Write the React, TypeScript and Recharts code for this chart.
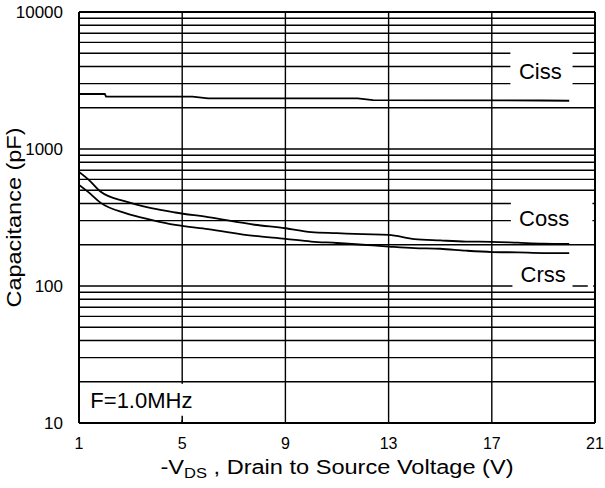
import { CartesianGrid, Line, LineChart, ReferenceArea, ReferenceDot, ReferenceLine, XAxis, YAxis } from "recharts";

const vdsTicks = [1, 5, 9, 13, 17, 21];
const capTicks = [
  10, 20, 30, 40, 50, 60, 70, 80, 90,
  100, 200, 300, 400, 500, 600, 700, 800, 900,
  1000, 2000, 3000, 4000, 5000, 6000, 7000, 8000, 9000,
  10000
];
const decadeLabels = [10, 100, 1000, 10000];

const cissV = [1, 2, 2.05, 5.4, 6.0, 11.8, 12.4, 18.9, 20];
const cissC = [2520, 2520, 2410, 2410, 2340, 2340, 2270, 2260, 2250];

const cossV = [1, 1.4, 1.83, 2.8, 3.8, 4.73, 6, 7.8, 9, 10, 11, 12, 13, 14, 15, 16, 17, 18, 19, 20];
const cossC = [680, 590, 489, 414, 370, 344, 318, 280, 264, 247, 243, 239, 236, 220, 215, 211, 210, 207, 204, 203];

const crssV = [1, 1.4, 1.83, 2.8, 3.8, 4.73, 6, 7.8, 9, 10, 11, 12, 13, 14, 15, 16, 17, 18, 19, 20];
const crssC = [547, 478, 406, 340, 304, 279, 260, 232, 221, 211, 206, 200, 194, 189, 187, 181, 177, 176, 174, 174];

const toRows = (v: number[], c: number[]) => v.map((x, i) => ({ v: x, c: c[i] }));

const FONT = "'Liberation Sans', Arial, sans-serif";

function XTitle({ viewBox }: any) {
  const cx = viewBox.x + viewBox.width / 2;
  return (
    <text x={cx} y={viewBox.y + 51} textAnchor="middle" fontSize={20} fontFamily={FONT} fill="#000"
      textLength={353} lengthAdjust="spacingAndGlyphs">
      -V<tspan fontSize={14} dy={4}>DS</tspan><tspan dy={-4}> , Drain to Source Voltage (V)</tspan>
    </text>
  );
}

function YTitle({ viewBox }: any) {
  const cy = viewBox.y + viewBox.height / 2;
  return (
    <text x={21} y={cy} transform={`rotate(-90 21 ${cy})`} textAnchor="middle" fontSize={20} fontFamily={FONT}
      fill="#000" textLength={180} lengthAdjust="spacingAndGlyphs">
      Capacitance (pF)
    </text>
  );
}

const tagStyle = { fontSize: 22, fontFamily: FONT, fill: "#000" };

export default function App() {
  return (
    <div style={{ position: "absolute", left: 0, top: 0, background: "#fff" }}>
      <LineChart width={605} height={488} margin={{ top: 12, right: 10, left: 0, bottom: 0 }}>
        <CartesianGrid stroke="#000" strokeWidth={1.4} />
        <XAxis type="number" dataKey="v" domain={[1, 21]} ticks={vdsTicks} allowDataOverflow height={65}
          tickSize={0} tickMargin={15} tick={{ fontSize: 16, fontFamily: FONT, fill: "#000" }}
          axisLine={{ stroke: "#000", strokeWidth: 2 }} label={(p: any) => <XTitle {...p} />} />
        <YAxis type="number" scale="log" domain={[10, 10000]} ticks={capTicks} allowDataOverflow width={79}
          tickSize={0} tickMargin={16} interval={0}
          tickFormatter={(t: number) => (decadeLabels.includes(t) ? String(t) : "")}
          tick={{ fontSize: 17, fontFamily: FONT, fill: "#000" }}
          axisLine={{ stroke: "#000", strokeWidth: 2 }} label={(p: any) => <YTitle {...p} />} />

        <ReferenceArea x1={17.72} x2={20.13} y1={2800} y2={5500} fill="#fff" fillOpacity={1} stroke="none" />
        <ReferenceArea x1={17.74} x2={20.9} y1={270} y2={450} fill="#fff" fillOpacity={1} stroke="none" />
        <ReferenceArea x1={17.8} x2={20.13} y1={94} y2={155} fill="#fff" fillOpacity={1} stroke="none" />
        <ReferenceArea x1={20.72} x2={20.93} y1={97} y2={103} fill="#fff" fillOpacity={1} stroke="none" />
        <ReferenceArea x1={4.7} x2={5.3} y1={10.5} y2={19.3} fill="#fff" fillOpacity={1} stroke="none" />

        <ReferenceLine y={10000} stroke="#000" strokeWidth={2} />
        <ReferenceLine x={21} stroke="#000" strokeWidth={2} />
        <ReferenceLine segment={[{ x: 5, y: 10 }, { x: 5, y: 11.3 }]} stroke="#000" strokeWidth={1.5} />

        <Line data={toRows(cissV, cissC)} dataKey="c" type="linear" stroke="#000" strokeWidth={1.8}
          dot={false} isAnimationActive={false} />
        <Line data={toRows(cossV, cossC)} dataKey="c" type="monotone" stroke="#000" strokeWidth={1.8}
          dot={false} isAnimationActive={false} />
        <Line data={toRows(crssV, crssC)} dataKey="c" type="monotone" stroke="#000" strokeWidth={1.8}
          dot={false} isAnimationActive={false} />

        <ReferenceDot x={18.88} y={3715} r={0} stroke="none" label={{ value: "Ciss", position: "center", ...tagStyle }} />
        <ReferenceDot x={19.03} y={314} r={0} stroke="none" label={{ value: "Coss", position: "center", ...tagStyle }} />
        <ReferenceDot x={18.99} y={122.7} r={0} stroke="none" label={{ value: "Crss", position: "center", ...tagStyle }} />
        <ReferenceDot x={1.44} y={14.55} r={0} stroke="none"
          label={{ value: "F=1.0MHz", position: "right", offset: 0, ...tagStyle }} />
      </LineChart>
    </div>
  );
}
